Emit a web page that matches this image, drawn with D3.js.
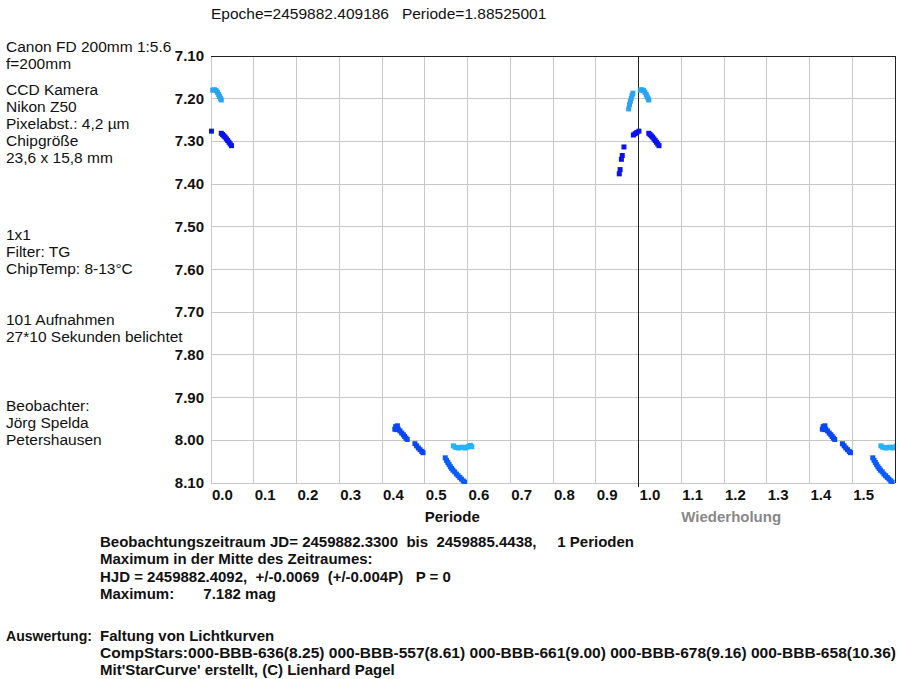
<!DOCTYPE html>
<html lang="de">
<head>
    <meta charset="UTF-8">
    <title>Lichtkurve</title>
<style>
    body { margin: 0; background: #fff; }
    svg text { font-family: "Liberation Sans", Arial, sans-serif; white-space: pre; }
</style>
<script src="https://cdn.jsdelivr.net/npm/d3@7"></script>
</head>
<body>
<div id="graphic"></div>

<script>
    // Phase/mag pairs, one array per observing night
    var nightA = [[0.977, 7.224], [0.979, 7.214], [0.981, 7.206], [0.983, 7.199], [0.985, 7.192], [0.987, 7.187],
                  [0.004, 7.180], [0.008, 7.179], [0.012, 7.181], [0.015, 7.185], [0.018, 7.190], [0.020, 7.195],
                  [0.022, 7.199], [0.024, 7.203]];
    var nightB = [[0.955, 7.376], [0.957, 7.366], [0.960, 7.342], [0.962, 7.333], [0.966, 7.313],
                  [0.988, 7.285], [0.992, 7.282], [0.996, 7.279], [0.001, 7.276],
                  [0.024, 7.281], [0.027, 7.284], [0.030, 7.287], [0.033, 7.290], [0.036, 7.294],
                  [0.039, 7.298], [0.042, 7.302], [0.045, 7.306], [0.048, 7.310]];
    var nightC = [[0.432, 7.968], [0.436, 7.966], [0.434, 7.975], [0.430, 7.974], [0.438, 7.974], [0.442, 7.978],
                  [0.446, 7.983], [0.450, 7.987], [0.453, 7.991], [0.456, 7.995], [0.459, 7.998],
                  [0.477, 8.008], [0.481, 8.013], [0.485, 8.018], [0.489, 8.022], [0.493, 8.026], [0.496, 8.029]];
    var nightD = [[0.548, 8.041], [0.551, 8.047], [0.554, 8.052], [0.557, 8.057], [0.560, 8.062], [0.563, 8.066],
                  [0.566, 8.070], [0.570, 8.074], [0.574, 8.079], [0.578, 8.083], [0.582, 8.087], [0.586, 8.091],
                  [0.590, 8.095], [0.593, 8.098]];
    var nightE = [[0.567, 8.013], [0.571, 8.016], [0.575, 8.017], [0.579, 8.018], [0.583, 8.017], [0.587, 8.016],
                  [0.591, 8.017], [0.595, 8.018], [0.599, 8.016], [0.603, 8.014], [0.607, 8.012], [0.610, 8.015]];

    var nights = [nightA, nightB, nightC, nightD, nightE];
    var nightColors = ['#2aa4f4', '#0a12ee', '#0a46f2', '#0a5cff', '#26b2ff'];

    var xTicks = [0.0, 0.1, 0.2, 0.3, 0.4, 0.5, 0.6, 0.7, 0.8, 0.9, 1.0, 1.1, 1.2, 1.3, 1.4, 1.5, 1.6];
    var xTickLabels = ['0.0', '0.1', '0.2', '0.3', '0.4', '0.5', '0.6', '0.7', '0.8', '0.9',
                       '1.0', '1.1', '1.2', '1.3', '1.4', '1.5'];
    var yTicks = [7.1, 7.2, 7.3, 7.4, 7.5, 7.6, 7.7, 7.8, 7.9, 8.0, 8.1];
    var yTickLabels = ['7.10', '7.20', '7.30', '7.40', '7.50', '7.60', '7.70', '7.80', '7.90', '8.00', '8.10'];

    var titleText = 'Epoche=2459882.409186   Periode=1.88525001';

    // side notes, in blocks
    var infoBlocks = [
        ['Canon FD 200mm 1:5.6', 'f=200mm'],
        ['CCD Kamera', 'Nikon Z50', 'Pixelabst.: 4,2 µm', 'Chipgröße', '23,6 x 15,8 mm'],
        ['1x1', 'Filter: TG', 'ChipTemp: 8-13°C'],
        ['101 Aufnahmen', '27*10 Sekunden belichtet'],
        ['Beobachter:', 'Jörg Spelda', 'Petershausen']
    ];
    var infoBlockTops = [47, 90, 235, 320, 406];

    var resultLines = [
        'Beobachtungszeitraum JD= 2459882.3300  bis  2459885.4438,     1 Perioden',
        'Maximum in der Mitte des Zeitraumes:',
        'HJD = 2459882.4092,  +/-0.0069  (+/-0.004P)   P = 0',
        'Maximum:       7.182 mag'
    ];
    var creditLabel = 'Auswertung:';
    var creditLines = [
        'Faltung von Lichtkurven',
        'CompStars:000-BBB-636(8.25) 000-BBB-557(8.61) 000-BBB-661(9.00) 000-BBB-678(9.16) 000-BBB-658(10.36)',
        "Mit'StarCurve' erstellt, (C) Lienhard Pagel"
    ];

    var width = 900;
    var height = 679;
    var plotLeft = 211, plotRight = 895, plotTop = 56, plotBottom = 483;
    var lineStep = 17;
    var markSize = 5;

    var svg = d3.select('#graphic')
                .append('svg')
                .attr('width', width)
                .attr('height', height);

    var x = d3.scaleLinear().domain([0, 1.6]).range([plotLeft, plotRight]);
    var y = d3.scaleLinear().domain([7.1, 8.1]).range([plotTop, plotBottom]);

    // grid
    svg.append('g')
        .selectAll('line')
        .data(xTicks)
        .join('line')
        .attr('x1', function(d) { return x(d); })
        .attr('x2', function(d) { return x(d); })
        .attr('y1', plotTop)
        .attr('y2', plotBottom)
        .attr('stroke', '#c8c8c8')
        .attr('shape-rendering', 'crispEdges');

    svg.append('g')
        .selectAll('line')
        .data(yTicks)
        .join('line')
        .attr('x1', plotLeft)
        .attr('x2', plotRight)
        .attr('y1', function(d) { return y(d); })
        .attr('y2', function(d) { return y(d); })
        .attr('stroke', '#c8c8c8')
        .attr('shape-rendering', 'crispEdges');

    // dark frame lines: top, right and the 1.0 separator
    svg.append('line').attr('x1', plotLeft).attr('x2', plotRight).attr('y1', y(7.1)).attr('y2', y(7.1))
        .attr('stroke', '#222').attr('shape-rendering', 'crispEdges');
    svg.append('line').attr('x1', x(1.6)).attr('x2', x(1.6)).attr('y1', plotTop).attr('y2', plotBottom)
        .attr('stroke', '#222').attr('shape-rendering', 'crispEdges');
    svg.append('line').attr('x1', x(1.0)).attr('x2', x(1.0)).attr('y1', plotTop).attr('y2', plotBottom + 4)
        .attr('stroke', '#222').attr('shape-rendering', 'crispEdges');

    // axis labels
    svg.append('g')
        .selectAll('text')
        .data(xTickLabels)
        .join('text')
        .attr('x', function(d) { return x(+d) + 1; })
        .attr('y', 500)
        .attr('font-size', 15)
        .attr('font-weight', 'bold')
        .attr('fill', '#111')
        .text(function(d) { return d; });

    svg.append('g')
        .selectAll('text')
        .data(yTickLabels)
        .join('text')
        .attr('x', 204)
        .attr('y', function(d) { return y(+d) + 5; })
        .attr('text-anchor', 'end')
        .attr('font-size', 15)
        .attr('font-weight', 'bold')
        .attr('fill', '#111')
        .text(function(d) { return d; });

    svg.append('text').attr('x', x(0.5)).attr('y', 522).attr('font-size', 15).attr('font-weight', 'bold')
        .attr('fill', '#111').text('Periode');
    svg.append('text').attr('x', x(1.1)).attr('y', 522).attr('font-size', 15).attr('font-weight', 'bold')
        .attr('fill', '#888').text('Wiederholung');

    // title and side notes
    svg.append('text').attr('x', 211).attr('y', 19).attr('font-size', 15.5).attr('fill', '#111').text(titleText);

    infoBlocks.forEach(function(block, b) {
        svg.append('g')
            .selectAll('text')
            .data(block)
            .join('text')
            .attr('x', 6)
            .attr('y', function(d, i) { return infoBlockTops[b] + i * lineStep + 5; })
            .attr('font-size', 15.5)
            .attr('fill', '#111')
            .text(function(d) { return d; });
    });

    // result block below the chart
    svg.append('g')
        .selectAll('text')
        .data(resultLines)
        .join('text')
        .attr('x', 100)
        .attr('y', function(d, i) { return 547 + i * 17.3; })
        .attr('font-size', 15)
        .attr('font-weight', 'bold')
        .attr('fill', '#111')
        .text(function(d) { return d; });

    svg.append('text').attr('x', 6).attr('y', 641).attr('font-size', 15).attr('font-weight', 'bold')
        .attr('fill', '#111')
        .attr('textLength', 86).attr('lengthAdjust', 'spacingAndGlyphs')
        .text(creditLabel);

    svg.append('g')
        .selectAll('text')
        .data(creditLines)
        .join('text')
        .attr('x', 100)
        .attr('y', function(d, i) { return 641 + i * lineStep; })
        .attr('font-size', 15)
        .attr('font-weight', 'bold')
        .attr('fill', '#111')
        .text(function(d) { return d; })
        .each(function() {
            // the long comp-star line runs right up to the edge in the original
            var w = this.getComputedTextLength();
            if (w > 700) {
                d3.select(this).attr('textLength', 796).attr('lengthAdjust', 'spacingAndGlyphs');
            }
        });

    // measurements, repeated one period to the right
    svg.append('clipPath').attr('id', 'plotclip')
        .append('rect').attr('x', plotLeft - 2).attr('y', plotTop)
        .attr('width', plotRight - plotLeft + 2).attr('height', plotBottom - plotTop + 1);

    var points = [];
    nights.forEach(function(night, i) {
        night.forEach(function(p) {
            points.push({phase: p[0], mag: p[1], color: nightColors[i]});
            if (p[0] + 1 <= 1.62) {
                points.push({phase: p[0] + 1, mag: p[1], color: nightColors[i]});
            }
        });
    });

    svg.append('g')
        .attr('clip-path', 'url(#plotclip)')
        .selectAll('rect')
        .data(points)
        .join('rect')
        .attr('x', function(d) { return x(d.phase) - markSize / 2; })
        .attr('y', function(d) { return y(d.mag) - markSize / 2; })
        .attr('width', markSize)
        .attr('height', markSize)
        .attr('fill', function(d) { return d.color; });
</script>
</body>
</html>
